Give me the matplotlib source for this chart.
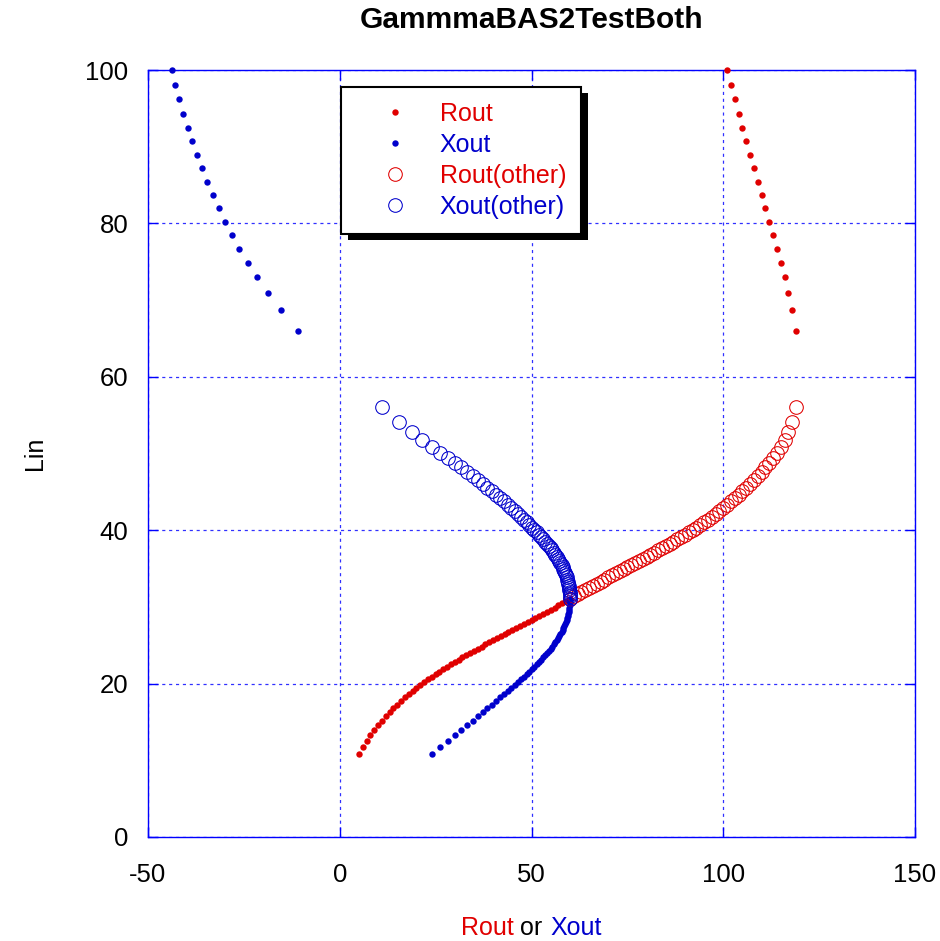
#!/usr/bin/env python
# -*- coding: utf-8 -*-

'''
    GammmaBAS2TestBoth : Rout / Xout against Lin, both solution branches.
'''

import matplotlib
matplotlib.use("Agg")
import matplotlib.pyplot as plt
from matplotlib.patches import Rectangle

plt.rcParams['font.family'] = ['Liberation Sans', 'DejaVu Sans']
plt.rcParams['axes.unicode_minus'] = False

# ---------------------------------------------------------------------------
# Data
# ---------------------------------------------------------------------------

# lower branch (filled dots), R = 5 .. 60
r_low = [5, 6, 7, 8, 9, 10, 11, 12, 13, 14, 15, 16, 17, 18, 19, 20,
         21, 22, 23, 24, 25, 26, 27, 28, 29, 30, 31, 32, 33, 34, 35, 36,
         37, 38, 39, 40, 41, 42, 43, 44, 45, 46, 47, 48, 49, 50, 51, 52,
         53, 54, 55, 56, 57, 58, 59, 60]
x_low = [23.98, 26.15, 28.12, 29.93, 31.61, 33.17, 34.63, 36.0, 37.30, 38.52,
         39.69, 40.79, 41.85, 42.85, 43.81, 44.72, 45.60, 46.43, 47.23, 48.0,
         48.73, 49.44, 50.11, 50.75, 51.37, 51.96, 52.53, 53.07, 53.58, 54.07,
         54.54, 54.99, 55.42, 55.82, 56.21, 56.57, 56.91, 57.24, 57.54, 57.83,
         58.09, 58.34, 58.57, 58.79, 58.98, 59.16, 59.32, 59.46, 59.59, 59.70,
         59.79, 59.87, 59.92, 59.97, 59.99, 60.0]
lin_low = [10.86, 11.72, 12.51, 13.24, 13.92, 14.56, 15.16, 15.73, 16.27, 16.78,
           17.27, 17.74, 18.19, 18.62, 19.03, 19.43, 19.81, 20.18, 20.54, 20.89,
           21.23, 21.56, 21.88, 22.20, 22.51, 22.81, 23.11, 23.41, 23.70, 23.99,
           24.27, 24.55, 24.83, 25.10, 25.37, 25.64, 25.90, 26.17, 26.43, 26.69,
           26.95, 27.21, 27.47, 27.73, 27.99, 28.25, 28.52, 28.79, 29.06, 29.34,
           29.62, 29.90, 30.19, 30.48, 30.77, 31.07]

# upper branch (filled dots), R = 101 .. 119
r_up = [101, 102, 103, 104, 105, 106, 107, 108, 109, 110,
        111, 112, 113, 114, 115, 116, 117, 118, 119]
x_up = [-43.81, -42.85, -41.85, -40.79, -39.69, -38.52, -37.30, -36.0, -34.63,
        -33.17, -31.61, -29.93, -28.12, -26.15, -23.98, -21.54, -18.73, -15.36,
        -10.91]
lin_up = [100.0, 98.0, 96.2, 94.3, 92.5, 90.7, 88.9, 87.2, 85.4, 83.7,
          82.0, 80.2, 78.5, 76.7, 74.9, 73.0, 70.9, 68.7, 66.0]

# other branch (open circles), R = 60 .. 119
r_oth = [60, 61, 62, 63, 64, 65, 66, 67, 68, 69, 70, 71, 72, 73, 74, 75,
         76, 77, 78, 79, 80, 81, 82, 83, 84, 85, 86, 87, 88, 89, 90, 91,
         92, 93, 94, 95, 96, 97, 98, 99, 100, 101, 102, 103, 104, 105, 106,
         107, 108, 109, 110, 111, 112, 113, 114, 115, 116, 117, 118, 119]
x_oth = [60.0, 59.99, 59.97, 59.92, 59.87, 59.79, 59.70, 59.59, 59.46, 59.32,
         59.16, 58.98, 58.79, 58.57, 58.34, 58.09, 57.83, 57.54, 57.24, 56.91,
         56.57, 56.21, 55.82, 55.42, 54.99, 54.54, 54.07, 53.58, 53.07, 52.53,
         51.96, 51.37, 50.75, 50.11, 49.44, 48.73, 48.0, 47.23, 46.43, 45.60,
         44.72, 43.81, 42.85, 41.85, 40.79, 39.69, 38.52, 37.30, 36.0, 34.63,
         33.17, 31.61, 29.93, 28.12, 26.15, 23.98, 21.54, 18.73, 15.36, 10.91]
lin_oth = [31.07, 31.36, 31.64, 31.92, 32.20, 32.47, 32.75, 33.03, 33.30, 33.57,
           33.84, 34.11, 34.38, 34.65, 34.92, 35.19, 35.46, 35.73, 36.00, 36.27,
           36.54, 36.81, 37.09, 37.37, 37.65, 37.94, 38.23, 38.52, 38.82, 39.12,
           39.43, 39.73, 40.04, 40.35, 40.68, 41.02, 41.38, 41.75, 42.13, 42.52,
           42.92, 43.33, 43.75, 44.18, 44.62, 45.07, 45.54, 46.03, 46.54, 47.07,
           47.62, 48.19, 48.79, 49.43, 50.12, 50.88, 51.74, 52.76, 54.06, 56.10]

x_ticks = [-50, 0, 50, 100, 150]
y_ticks = [0, 20, 40, 60, 80, 100]

RED = '#e00000'
BLUE = '#0000cc'


def main():

    fig = plt.figure(figsize=(9.4, 9.41), dpi=100)
    ax = fig.add_axes([148 / 940, 104 / 941, 767 / 940, 767 / 941])

    # filled dots : main solution
    ax.plot(r_low + r_up, lin_low + lin_up, 'o', color=RED, ms=4.6, mew=0,
            label='Rout', clip_on=False, zorder=3)
    ax.plot(x_low + x_up, lin_low + lin_up, 'o', color=BLUE, ms=4.6, mew=0,
            label='Xout', clip_on=False, zorder=3)

    # open circles : other solution
    ax.plot(r_oth, lin_oth, 'o', mfc='none', mec=RED, ms=9.8, mew=0.75,
            label='Rout(other)', clip_on=False, zorder=3)
    ax.plot(x_oth, lin_oth, 'o', mfc='none', mec=BLUE, ms=9.8, mew=0.75,
            label='Xout(other)', clip_on=False, zorder=3)

    ax.set_xlim(-50, 150)
    ax.set_ylim(0, 100)
    ax.set_xticks(x_ticks)
    ax.set_yticks(y_ticks)
    ax.tick_params(axis='both', direction='in', length=7, width=1,
                   color='#0000ff', labelsize=18.5, top=True, right=True)
    ax.tick_params(axis='x', pad=19)
    ax.tick_params(axis='y', pad=14)
    for s in ax.spines.values():
        s.set_color('#0000ff')
        s.set_linewidth(1.0)

    ax.grid(True, color='#3030ff', linestyle=(0, (2.5, 3)), linewidth=0.9)
    ax.set_axisbelow(True)

    # title and axis labels
    fig.text(532 / 940, 1 - 20 / 941, 'GammmaBAS2TestBoth', ha='center',
             va='center', fontsize=21.5, fontweight='bold')
    fig.text(35 / 940, 1 - 453 / 941, 'Lin', ha='center', va='center',
             rotation=90, fontsize=18)
    fig.text(514 / 940, 1 - 928 / 941, 'Rout', ha='right', va='center',
             fontsize=18, color=RED)
    fig.text(531 / 940, 1 - 928 / 941, 'or', ha='center', va='center',
             fontsize=18, color='black')
    fig.text(550 / 940, 1 - 928 / 941, 'Xout', ha='left', va='center',
             fontsize=18, color=BLUE)

    # legend with a solid black shadow, gnuplot style
    leg = ax.legend(loc='upper left', bbox_to_anchor=(0.2516, 0.978),
                    borderaxespad=0, fontsize=18, labelcolor='linecolor',
                    frameon=True, fancybox=False, borderpad=0.6,
                    handlelength=3.1, handletextpad=0.25, labelspacing=0.28,
                    markerscale=1.0)
    leg.get_frame().set_edgecolor('black')
    leg.get_frame().set_linewidth(1.5)
    leg.get_frame().set_alpha(1)
    leg.set_zorder(6)
    for t, c in zip(leg.get_texts(), [RED, BLUE, RED, BLUE]):
        t.set_color(c)

    fig.canvas.draw()
    bb = leg.get_window_extent().transformed(ax.transAxes.inverted())
    dx = 7 / 767
    dy = 6 / 767
    shadow = Rectangle((bb.x0 + dx, bb.y0 - dy), bb.width, bb.height,
                       transform=ax.transAxes, facecolor='black',
                       edgecolor='none', clip_on=False, zorder=5.5)
    ax.add_patch(shadow)

    fig.savefig('out.png', dpi=100)


if __name__ == "__main__":

    main()
